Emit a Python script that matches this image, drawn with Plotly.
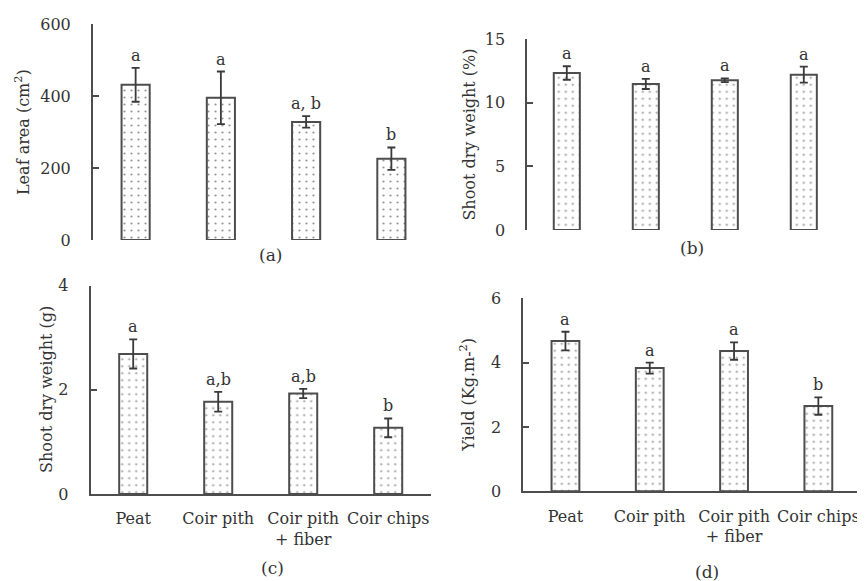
import plotly.graph_objects as go

categories = ["Peat", "Coir pith", "Coir pith<br>+ fiber", "Coir chips"]

leaf_area = [431, 395, 328, 226]
leaf_area_err = [47, 73, 16, 31]
leaf_area_letters = ["a", "a", "a, b", "b"]

shoot_pct = [12.35, 11.49, 11.78, 12.22]
shoot_pct_err = [0.53, 0.40, 0.15, 0.63]
shoot_pct_letters = ["a", "a", "a", "a"]

shoot_g = [2.69, 1.77, 1.93, 1.27]
shoot_g_err = [0.28, 0.19, 0.09, 0.18]
shoot_g_letters = ["a", "a,b", "a,b", "b"]

yield_kg = [4.67, 3.83, 4.36, 2.65]
yield_kg_err = [0.29, 0.17, 0.27, 0.27]
yield_kg_letters = ["a", "a", "a", "b"]

# page offset (browser body margin) compensation
OX, OY = 8, 8
W, H = 865 - OX, 581 - OY


def px(x):
    return (x - OX) / W


def py(y):
    return 1 - (y - OY) / H


panels = [
    dict(vals=leaf_area, err=leaf_area_err, letters=leaf_area_letters, xa="x", ya="y",
         title="Leaf area (cm<sup>2</sup>)", ticks=[0, 200, 400, 600], rng=[0, 600],
         xd=[px(93), px(434)], yd=[py(240), py(24)], bottom=False,
         tpos=(23, 132), lab="(a)", lpos=(270, 255)),
    dict(vals=shoot_pct, err=shoot_pct_err, letters=shoot_pct_letters, xa="x2", ya="y2",
         title="Shoot dry weight (%)", ticks=[0, 5, 10, 15], rng=[0, 15],
         xd=[px(527.3), px(843.3)], yd=[py(230), py(39.3)], bottom=False,
         tpos=(470, 134.6), lab="(b)", lpos=(692, 248)),
    dict(vals=shoot_g, err=shoot_g_err, letters=shoot_g_letters, xa="x3", ya="y3",
         title="Shoot dry weight (g)", ticks=[0, 2, 4], rng=[0, 4],
         xd=[px(90.7), px(430.7)], yd=[py(494), py(285.7)], bottom=True,
         tpos=(47, 389.9), lab="(c)", lpos=(272, 568)),
    dict(vals=yield_kg, err=yield_kg_err, letters=yield_kg_letters, xa="x4", ya="y4",
         title="Yield (Kg.m-<sup>2</sup>)", ticks=[0, 2, 4, 6], rng=[0, 6],
         xd=[px(523.3), px(860.5)], yd=[py(491.3), py(298.3)], bottom=True,
         tpos=(468, 394.8), lab="(d)", lpos=(707, 572)),
]

FONT = "DejaVu Serif"
TXT = "#333333"
LINE = "#4d4d4d"

fig = go.Figure()
annotations = []
layout_axes = {}

for i, p in enumerate(panels):
    fig.add_trace(go.Bar(
        x=categories, y=p["vals"], xaxis=p["xa"], yaxis=p["ya"],
        marker=dict(color="white", line=dict(color=LINE, width=2),
                    pattern=dict(shape=".", fgcolor="#2a2a2a", bgcolor="white",
                                 size=7, solidity=0.08)),
        error_y=dict(type="data", array=p["err"], visible=True,
                     color="#3a3a3a", thickness=1.8, width=4),
        showlegend=False,
    ))
    for c, v, e, t in zip(categories, p["vals"], p["err"], p["letters"]):
        annotations.append(dict(x=c, y=v + e, xref=p["xa"], yref=p["ya"], text=t,
                                showarrow=False, xanchor="center", yanchor="bottom", yshift=1,
                                font=dict(family=FONT, size=16, color=TXT)))
    annotations.append(dict(x=px(p["tpos"][0]), y=py(p["tpos"][1]), xref="paper", yref="paper",
                            text=p["title"], textangle=-90, showarrow=False,
                            xanchor="center", yanchor="middle",
                            font=dict(family=FONT, size=16, color=TXT)))
    annotations.append(dict(x=px(p["lpos"][0]), y=py(p["lpos"][1]), xref="paper", yref="paper",
                            text=p["lab"], showarrow=False,
                            xanchor="center", yanchor="middle",
                            font=dict(family=FONT, size=17, color=TXT)))
    suffix = "" if i == 0 else str(i + 1)
    layout_axes["xaxis" + suffix] = dict(
        domain=p["xd"], anchor=p["ya"], type="category", range=[-0.5, 3.5],
        showline=p["bottom"], linecolor=LINE, linewidth=2, showgrid=False,
        zeroline=False, ticks="", showticklabels=p["bottom"], automargin=False,
        ticklabelstandoff=9,
        tickfont=dict(family=FONT, size=16, color=TXT), fixedrange=True,
    )
    layout_axes["yaxis" + suffix] = dict(
        domain=p["yd"], anchor=p["xa"], range=p["rng"], tickvals=p["ticks"],
        showline=True, linecolor=LINE, linewidth=2, showgrid=False, zeroline=False,
        ticks="inside", ticklen=6, tickwidth=2, tickcolor=LINE, automargin=False,
        ticklabelstandoff=17,
        tickfont=dict(family=FONT, size=16, color=TXT), fixedrange=True,
    )

fig.update_layout(
    width=W, height=H, margin=dict(l=0, r=0, t=0, b=0, pad=0, autoexpand=False),
    paper_bgcolor="white", plot_bgcolor="white", bargap=0.67,
    annotations=annotations, **layout_axes,
)

fig.write_html("out.html")
